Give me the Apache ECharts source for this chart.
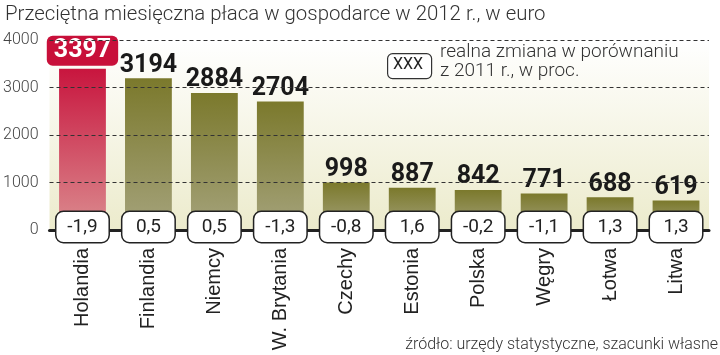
<!DOCTYPE html>
<html>
<head>
<meta charset="utf-8">
<script src="https://cdn.jsdelivr.net/npm/echarts@6/dist/echarts.min.js"></script>
<style>
  html, body { margin: 0; padding: 0; background: #fff; }
  #chart { width: 720px; height: 355px; }
</style>
</head>
<body>
<div id="chart"></div>
<script>
// dane z wykresu
var countries = ['Holandia', 'Finlandia', 'Niemcy', 'W. Brytania', 'Czechy', 'Estonia', 'Polska', 'Węgry', 'Łotwa', 'Litwa'];
var wages = [3397, 3194, 2884, 2704, 998, 887, 842, 771, 688, 619];
var changes = ['-1,9', '0,5', '0,5', '-1,3', '-0,8', '1,6', '-0,2', '-1,1', '1,3', '1,3'];
var yTicks = [0, 1000, 2000, 3000, 4000];

var lightFont = 'Roboto';
var boldFont = 'Roboto';

function grad(top, bottom) {
  return new echarts.graphic.LinearGradient(0, 0, 0, 1, [
    { offset: 0, color: top },
    { offset: 1, color: bottom }
  ]);
}

var barData = wages.map(function (v, i) {
  var item = {
    value: v,
    itemStyle: { color: grad('#7b792c', '#a5a37c') }
  };
  if (i === 0) {
    item.itemStyle = { color: grad('#c8153e', '#db8c8f') };
    item.label = {
      formatter: '{hl|{c}}',
      distance: 6
    };
  }
  return item;
});

var chart = echarts.init(document.getElementById('chart'));

var option = {
  animation: false,
  backgroundColor: '#fff',
  title: {
    text: 'Przeciętna miesięczna płaca w gospodarce w 2012 r., w euro',
    left: 0,
    top: 0,
    textStyle: {
      fontFamily: lightFont,
      fontWeight: 300,
      fontSize: 20.4,
      color: '#333'
    }
  },
  grid: {
    left: 49,
    right: 11,
    top: 40,
    bottom: 125,
    show: true,
    borderWidth: 0,
    backgroundColor: grad('#ffffff', '#ecebcc')
  },
  xAxis: {
    type: 'category',
    data: countries,
    z: 4,
    axisLine: { lineStyle: { color: '#222', width: 3 } },
    axisTick: { show: false },
    axisLabel: {
      rotate: 90,
      margin: 18,
      fontFamily: 'Liberation Sans',
      fontSize: 20,
      color: '#222'
    }
  },
  yAxis: {
    type: 'value',
    min: 0,
    max: 4000,
    interval: 1000,
    z: 4,
    axisLine: { show: false },
    axisTick: { show: false },
    axisLabel: {
      margin: 11,
      fontFamily: lightFont,
      fontWeight: 300,
      fontSize: 16,
      color: '#444',
      formatter: function (v) { return yTicks.indexOf(v) >= 0 ? String(v) : ''; }
    },
    splitLine: { lineStyle: { color: '#333', type: [4, 3], width: 1 } }
  },
  series: [{
    type: 'bar',
    data: barData,
    barCategoryGap: '29%',
    z: 2,
    label: {
      show: true,
      position: 'top',
      distance: 1,
      fontFamily: boldFont,
      fontWeight: 'bold',
      fontSize: 25,
      lineHeight: 24,
      color: '#1a1a1a',
      rich: {
        hl: {
          fontFamily: boldFont,
          fontWeight: 'bold',
          fontSize: 25,
          lineHeight: 24,
          color: '#fff',
          backgroundColor: '#c8103a',
          borderRadius: 6,
          padding: [3, 7, 2, 7]
        }
      }
    }
  }, {
    type: 'scatter',
    data: changes.map(function (c, i) { return [countries[i], 0]; }),
    symbolSize: 0,
    itemStyle: { opacity: 1 },
    z: 10,
    label: {
      show: true,
      position: 'inside',
      offset: [0, -3],
      formatter: function (p) { return changes[p.dataIndex]; },
      fontFamily: 'Roboto',
      fontSize: 19,
      color: '#222',
      backgroundColor: '#fff',
      borderColor: '#222',
      borderWidth: 1.5,
      borderRadius: 7,
      width: 46,
      height: 26,
      lineHeight: 26,
      align: 'center',
      padding: [2, 3]
    }
  }],
  graphic: [{
    type: 'rect',
    left: 387,
    top: 53,
    shape: { width: 44, height: 25, r: 5 },
    style: { fill: '#fff', stroke: '#333', lineWidth: 1.2 },
    z: 20
  }, {
    type: 'text',
    left: 393,
    top: 57,
    style: {
      text: 'XXX',
      font: '16px Roboto',
      fill: '#222'
    },
    z: 21
  }, {
    type: 'text',
    left: 440,
    top: 43,
    style: {
      text: 'realna zmiana w porównaniu\nz 2011 r., w proc.',
      font: '300 19px ' + lightFont,
      lineHeight: 19,
      fill: '#333'
    },
    z: 21
  }, {
    type: 'text',
    right: 2,
    bottom: 2,
    style: {
      text: 'źródło: urzędy statystyczne, szacunki własne',
      font: '300 16px ' + lightFont,
      fill: '#333'
    }
  }]
};

chart.setOption(option);
</script>
</body>
</html>
